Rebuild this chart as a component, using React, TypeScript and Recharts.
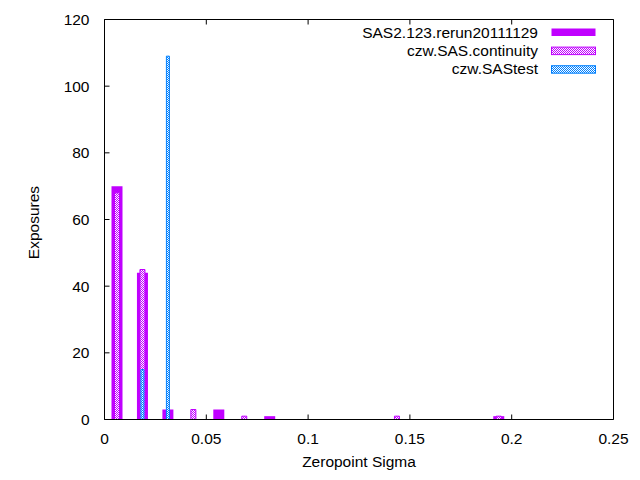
import React from 'react';
import { ComposedChart, Bar, XAxis, YAxis, Legend } from 'recharts';

const binCenters = [0.00625, 0.01875, 0.03125, 0.04375, 0.05625, 0.06875, 0.08125, 0.14375, 0.19375];
const rerun = [70, 44, 3, null, 3, null, 1, null, 1];
const continuity = [68, 45, null, 3, null, 1, null, 1, 1];
const saTest = [null, 15, 109, null, null, null, null, null, null];

const seriesNames = ['SAS2.123.rerun20111129', 'czw.SAS.continuity', 'czw.SAStest'];
const xTicks = [0, 0.05, 0.1, 0.15, 0.2, 0.25];
const yTicks = [0, 20, 40, 60, 80, 100, 120];

const PURPLE = '#c000ff';
const BLUE = '#0080ff';
const FONT = { fontFamily: '"Liberation Sans", Arial, sans-serif', fontSize: 15.5, fill: '#000' };

const rows = binCenters.map((x, i) => ({
  x,
  rerun: rerun[i],
  continuity: continuity[i],
  saTest: saTest[i],
}));

const BottomTick = ({ x, y, payload }: any) => (
  <g>
    <line x1={x} x2={x} y1={y} y2={y - 5} stroke="#000" />
    <text x={x} y={y + 24.5} textAnchor="middle" style={FONT}>{String(payload.value)}</text>
  </g>
);

const TopTick = ({ x, y }: any) => <line x1={x} x2={x} y1={y} y2={y + 5} stroke="#000" />;

const LeftTick = ({ x, y, payload }: any) => (
  <g>
    <line x1={x} x2={x + 5} y1={y} y2={y} stroke="#000" />
    <text x={x - 15} y={y + 5.5} textAnchor="end" style={FONT}>{String(payload.value)}</text>
  </g>
);

const RightTick = ({ x, y }: any) => <line x1={x} x2={x - 5} y1={y} y2={y} stroke="#000" />;

const swatches = [
  { fill: PURPLE, stroke: 'none' },
  { fill: 'url(#checkPurple)', stroke: PURPLE },
  { fill: 'url(#checkBlue)', stroke: BLUE },
];

const LegendBox = () => (
  <svg width={640} height={90} style={{ display: 'block' }}>
    {seriesNames.map((name, i) => (
      <g key={name}>
        <text x={538} y={37.5 + i * 18.2} textAnchor="end" style={FONT}>{name}</text>
        <rect x={551.5} y={28.5 + i * 18.6} width={44} height={7.5} fill={swatches[i].fill} stroke={swatches[i].stroke} />
      </g>
    ))}
  </svg>
);

export default function App() {
  return (
    <div style={{ position: 'absolute', left: 0, top: 0, background: '#fff' }}>
      <ComposedChart width={640} height={480} data={rows} margin={{ top: 0, right: 0, bottom: 0, left: 0 }}>
        <defs>
          <pattern id="checkPurple" patternUnits="userSpaceOnUse" width={2} height={2}>
            <rect x={0} y={0} width={2} height={2} fill="#fff" />
            <rect x={0} y={0} width={1} height={1} fill={PURPLE} />
            <rect x={1} y={1} width={1} height={1} fill={PURPLE} />
          </pattern>
          <pattern id="checkBlue" patternUnits="userSpaceOnUse" width={2} height={2}>
            <rect x={0} y={0} width={2} height={2} fill="#fff" />
            <rect x={0} y={0} width={1} height={1} fill={BLUE} />
            <rect x={1} y={1} width={1} height={1} fill={BLUE} />
          </pattern>
        </defs>
        <XAxis
          xAxisId="a"
          dataKey="x"
          type="number"
          domain={[0, 0.25]}
          ticks={xTicks}
          height={60.5}
          tickSize={0}
          tickMargin={0}
          tickLine={false}
          tick={<BottomTick />}
          axisLine={{ stroke: '#000' }}
          label={{
            content: ({ viewBox }: any) => (
              <text x={viewBox.x + viewBox.width / 2} y={viewBox.y + 47.5} textAnchor="middle" style={FONT}>
                Zeropoint Sigma
              </text>
            ),
          }}
        />
        <XAxis xAxisId="b" dataKey="x" type="number" domain={[0, 0.25]} hide />
        <XAxis xAxisId="c" dataKey="x" type="number" domain={[0, 0.25]} hide />
        <XAxis
          xAxisId="top"
          orientation="top"
          dataKey="x"
          type="number"
          domain={[0, 0.25]}
          ticks={xTicks}
          height={19.5}
          tickSize={0}
          tickMargin={0}
          tickLine={false}
          tick={<TopTick />}
          axisLine={{ stroke: '#000' }}
        />
        <YAxis
          yAxisId="left"
          domain={[0, 120]}
          ticks={yTicks}
          width={104.5}
          tickSize={0}
          tickMargin={0}
          tickLine={false}
          tick={<LeftTick />}
          axisLine={{ stroke: '#000' }}
          label={{
            content: ({ viewBox }: any) => {
              const cx = 38.5;
              const cy = viewBox.y + viewBox.height / 2 + 3;
              return (
                <text x={cx} y={cy} transform={`rotate(-90 ${cx} ${cy})`} textAnchor="middle" style={FONT}>
                  Exposures
                </text>
              );
            },
          }}
        />
        <YAxis
          yAxisId="right"
          orientation="right"
          domain={[0, 120]}
          ticks={yTicks}
          width={26.5}
          tickSize={0}
          tickMargin={0}
          tickLine={false}
          tick={<RightTick />}
          axisLine={{ stroke: '#000' }}
        />
        <Legend
          layout="vertical"
          align="center"
          verticalAlign="middle"
          wrapperStyle={{ left: 0, top: 0, width: 640, height: 90 }}
          content={<LegendBox />}
        />
        <Bar xAxisId="a" yAxisId="left" dataKey="rerun" name={seriesNames[0]} fill={PURPLE} barSize={11} isAnimationActive={false} />
        <Bar
          xAxisId="b"
          yAxisId="left"
          dataKey="continuity"
          name={seriesNames[1]}
          fill="url(#checkPurple)"
          stroke={PURPLE}
          barSize={5}
          isAnimationActive={false}
        />
        <Bar
          xAxisId="c"
          yAxisId="left"
          dataKey="saTest"
          name={seriesNames[2]}
          fill="url(#checkBlue)"
          stroke={BLUE}
          barSize={3}
          isAnimationActive={false}
        />
      </ComposedChart>
    </div>
  );
}
